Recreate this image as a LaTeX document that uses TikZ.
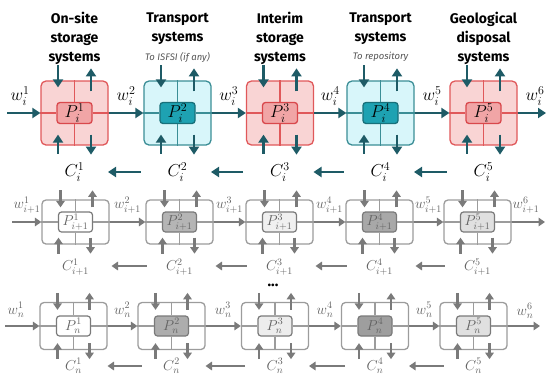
\documentclass[tikz,border=0pt]{standalone}
\usepackage{fontspec}
\setmainfont{Fira Sans}
\usetikzlibrary{arrows.meta,calc}
\definecolor{tealA}{HTML}{1E5B66}
\definecolor{redB}{HTML}{E0585A}
\definecolor{redF}{HTML}{F9D4D4}
\definecolor{redIB}{HTML}{D9484C}
\definecolor{redIF}{HTML}{F1A5A6}
\definecolor{tealB}{HTML}{3B8E96}
\definecolor{tealF}{HTML}{D8F6FA}
\definecolor{tealIB}{HTML}{18707A}
\definecolor{tealIF}{HTML}{1EA2B2}
\definecolor{grayL}{HTML}{9C9C9C}
\definecolor{grayA}{HTML}{7A7A7A}
\definecolor{grayT}{HTML}{626262}
\definecolor{subT}{HTML}{555555}
\begin{document}
\begin{tikzpicture}[x=1pt,y=-1pt,
  arrT/.style={line width=2.8pt,draw=tealA,-{Triangle[length=8pt,width=10pt]}},
  arrG/.style={line width=2.3pt,draw=grayA,-{Triangle[length=6.5pt,width=8.5pt]}},
  red box/.style={draw=redB,fill=redF,line width=1.3pt,rounded corners=5pt,minimum width=67pt,minimum height=64pt,inner sep=0pt},
  red in/.style={draw=redIB,fill=redIF,line width=1.3pt,rounded corners=3pt,minimum width=35pt,minimum height=21pt,inner sep=0pt,font=\fontsize{18}{18}\selectfont},
  red line/.style={draw=redB,line width=1.3pt},
  teal box/.style={draw=tealB,fill=tealF,line width=1.3pt,rounded corners=5pt,minimum width=67pt,minimum height=64pt,inner sep=0pt},
  teal in/.style={draw=tealIB,fill=tealIF,line width=1.3pt,rounded corners=3pt,minimum width=35pt,minimum height=21pt,inner sep=0pt,font=\fontsize{18}{18}\selectfont},
  teal line/.style={draw=tealB,line width=1.3pt},
  gbox/.style={draw=grayL,fill=white,line width=1.3pt,rounded corners=4pt,minimum width=67pt,inner sep=0pt},
  gin/.style={draw=grayA,line width=1.2pt,rounded corners=3pt,minimum width=34pt,minimum height=20pt,inner sep=0pt,font=\fontsize{14}{14}\selectfont,text=grayT},
  gline/.style={draw=grayL,line width=1.3pt},
  title/.style={anchor=north,align=center,font=\bfseries\fontsize{14}{19}\selectfont},
  subtitle/.style={font=\itshape\fontsize{9.5}{10}\selectfont,text=subT},
  tlab/.style={font=\fontsize{18}{18}\selectfont,inner sep=0pt},
  glab/.style={font=\fontsize{14}{14}\selectfont,inner sep=0pt,text=grayT}]
\useasboundingbox (0,0) rectangle (546,376);
% titles
\node[title] (t1) at (74.5,9) {On-site\\storage\\systems};
\node[title] (t2) at (177.5,9) {Transport\\systems};
\node[title] (t3) at (280,9) {Interim\\storage\\systems};
\node[title] (t4) at (380.5,9) {Transport\\systems};
\node[title] (t5) at (483.5,9) {Geological\\disposal\\systems};
\node[subtitle] (s2) at (177.5,57) {To ISFSI (if any)};
\node[subtitle] (s4) at (380.5,57) {To repository};
% top row
\foreach \i/\x/\k in {1/74.5/red,2/177.5/teal,3/280/red,4/380.5/teal,5/483.5/red}{
  \node[\k\space box] (a\i) at (\x,113) {};
  \node[\k\space in] (pa\i) at (a\i) {$P_i^{\i}$};
  \draw[\k\space line] (a\i.north) -- (pa\i.north);
  \draw[\k\space line] (pa\i.south) -- (a\i.south);
  \draw[\k\space line] (a\i.west) -- (pa\i.west);
  \draw[\k\space line] (pa\i.east) -- (a\i.east);
  \draw[arrT] ($(a\i.north)+(-16.5,-15)$) -- ($(a\i.north)+(-16.5,7)$);
  \draw[arrT] ($(a\i.north)+(16.5,11)$) -- ($(a\i.north)+(16.5,-12)$);
  \draw[arrT] ($(a\i.south)+(-16.5,8)$) -- ($(a\i.south)+(-16.5,-11)$);
  \draw[arrT] ($(a\i.south)+(16.5,-11)$) -- ($(a\i.south)+(16.5,9)$);
  \node[tlab] (ca\i) at (\x,172) {$C_i^{\i}$};
}
\coordinate (wa0) at (7,113);
\coordinate (wa6) at (546,113);
\draw[arrT] (wa0) -- (a1.west);
\draw[arrT] (a5.east) -- (wa6);
\node[tlab] (wla1) at (20,96) {$w_i^1$};
\node[tlab] (wla6) at (535,96) {$w_i^6$};
\foreach \i/\j in {1/2,2/3,3/4,4/5}{
  \draw[arrT] (a\i.east) -- (a\j.west);
  \node[tlab] (wla\j) at ($(a\i.east)!0.5!(a\j.west)+(0,-17)$) {$w_i^{\j}$};
  \draw[arrT] ($(ca\j)+(-37,0)$) -- ($(ca\i)+(33.5,0)$);
}
% second row
\foreach \i/\x/\f in {1/75.5/white,2/179.5/black!29,3/279.5/black!6,4/379.5/black!34,5/477.5/black!12}{
  \node[gbox,minimum height=44pt] (b\i) at (\x,222) {};
  \node[gin,fill=\f] (pb\i) at (b\i) {$P_{i+1}^{\i}$};
  \draw[gline] (b\i.north) -- (pb\i.north);
  \draw[gline] (pb\i.south) -- (b\i.south);
  \draw[gline] (b\i.west) -- (pb\i.west);
  \draw[gline] (pb\i.east) -- (b\i.east);
  \draw[arrG] ($(b\i.north)+(-15,-9)$) -- ($(b\i.north)+(-15,8)$);
  \draw[arrG] ($(b\i.north)+(17,8)$) -- ($(b\i.north)+(17,-9)$);
  \draw[arrG] ($(b\i.south)+(-17,9)$) -- ($(b\i.south)+(-17,-7)$);
  \draw[arrG] ($(b\i.south)+(15,-7)$) -- ($(b\i.south)+(15,9)$);
  \node[glab] (cb\i) at (\x,267) {$C_{i+1}^{\i}$};
}
\coordinate (wb0) at (12,222);
\coordinate (wb6) at (545,222);
\draw[arrG] (wb0) -- (b1.west);
\draw[arrG] (b5.east) -- (wb6);
\node[glab] (wlb1) at (27,205) {$w_{i+1}^1$};
\node[glab] (wlb6) at (526,205) {$w_{i+1}^6$};
\foreach \i/\j in {1/2,2/3,3/4,4/5}{
  \draw[arrG] (b\i.east) -- (b\j.west);
  \node[glab] (wlb\j) at ($(b\i.east)!0.5!(b\j.west)+(0,-17)$) {$w_{i+1}^{\j}$};
  \draw[arrG] ($(cb\j)+(-33,-1)$) -- ($(cb\i)+(36,-1)$);
}
% dots
\node[font=\bfseries\fontsize{15}{15}\selectfont] (dots) at (273,285) {...};
% third row
\foreach \i/\x/\f in {1/73.5/white,2/171.5/black!32,3/275/black!7,4/375/black!38,5/473.5/black!12}{
  \node[gbox,minimum height=47pt] (c\i) at (\x,326) {};
  \node[gin,fill=\f] (pc\i) at (c\i) {$P_{n}^{\i}$};
  \draw[gline] (c\i.north) -- (pc\i.north);
  \draw[gline] (pc\i.south) -- (c\i.south);
  \draw[gline] (c\i.west) -- (pc\i.west);
  \draw[gline] (pc\i.east) -- (c\i.east);
  \draw[arrG] ($(c\i.north)+(-16,-9)$) -- ($(c\i.north)+(-16,8)$);
  \draw[arrG] ($(c\i.north)+(16,8)$) -- ($(c\i.north)+(16,-9)$);
  \draw[arrG] ($(c\i.south)+(-16,9)$) -- ($(c\i.south)+(-16,-7)$);
  \draw[arrG] ($(c\i.south)+(16,-7)$) -- ($(c\i.south)+(16,9)$);
  \node[glab] (cc\i) at (\x,366) {$C_{n}^{\i}$};
}
\coordinate (wc0) at (5,326);
\coordinate (wc6) at (540,326);
\draw[arrG] (wc0) -- (c1.west);
\draw[arrG] (c5.east) -- (wc6);
\node[glab] (wlc1) at (16,310) {$w_{n}^1$};
\node[glab] (wlc6) at (525,311) {$w_{n}^6$};
\foreach \i/\j in {1/2,2/3,3/4,4/5}{
  \draw[arrG] (c\i.east) -- (c\j.west);
  \node[glab] (wlc\j) at ($(c\i.east)!0.5!(c\j.west)+(0,-16)$) {$w_{n}^{\j}$};
  \draw[arrG] ($(cc\j)+(-30,0)$) -- ($(cc\i)+(34,0)$);
}
\end{tikzpicture}
\end{document}
